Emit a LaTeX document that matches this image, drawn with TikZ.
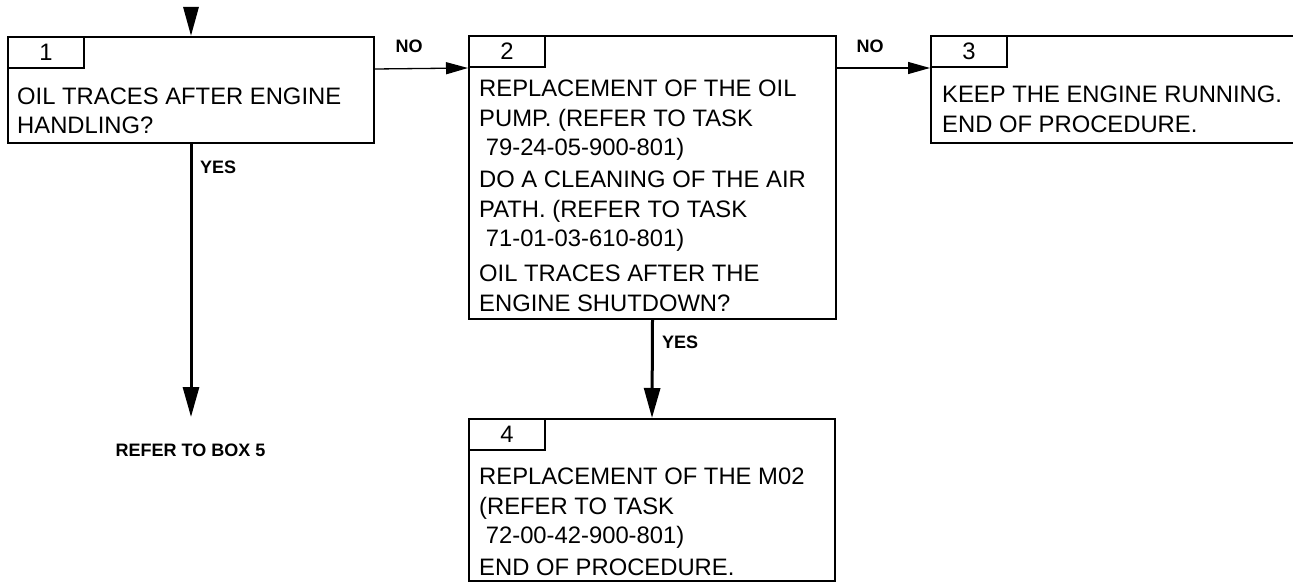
\documentclass[tikz,border=0pt]{standalone}
\usepackage{fontspec}
\setmainfont{Liberation Sans}
\usetikzlibrary{arrows.meta, positioning}

\begin{document}
\begin{tikzpicture}[
    x=1pt, y=-1pt,
    box/.style={draw, line width=2pt, anchor=north west, minimum width=366pt, inner sep=0pt},
    tab/.style={draw, line width=2pt, anchor=north west, minimum width=76pt, minimum height=31pt, inner sep=0pt, font=\fontsize{23.8}{28}\selectfont},
    boxtext/.style={anchor=base west, align=left, inner sep=0pt, font=\fontsize{23.8}{29.5}\selectfont},
    answer/.style={font=\fontsize{18}{22}\selectfont\bfseries, inner sep=0pt},
    noarrow/.style={-{Triangle[length=22pt, width=12pt]}, line width=1.3pt},
    yesarrow/.style={-{Triangle[length=30pt, width=16pt]}, line width=3pt},
  ]
    \useasboundingbox (0,0) rectangle (1293,583);

    % Boxes
    \node[box, minimum height=106pt] (b1) at (7,36) {};
    \node[box, minimum width=367pt, minimum height=283pt] (b2) at (468,35) {};
    \node[box, minimum height=107pt] (b3) at (930,35) {};
    \node[box, minimum height=162pt] (b4) at (468,418) {};

    % Number tabs
    \node[tab] (n1) at (b1.north west) {1};
    \node[tab] (n2) at (b2.north west) {2};
    \node[tab] (n3) at (b3.north west) {3};
    \node[tab] (n4) at (b4.north west) {4};

    % Texts (placed at the baseline of their last line)
    \node[boxtext] (t1) at (17,134) {OIL TRACES AFTER ENGINE\\HANDLING?};
    \node[boxtext] (t2) at (479,311) {REPLACEMENT OF THE OIL\\PUMP. (REFER TO TASK\\
      \hspace*{0.28em}79-24-05-900-801)\\[2.5pt]DO A CLEANING OF THE AIR\\PATH. (REFER TO TASK\\
      \hspace*{0.28em}71-01-03-610-801)\\[5.5pt]OIL TRACES AFTER THE\\ENGINE SHUTDOWN?};
    \node[boxtext] (t3) at (942,132) {KEEP THE ENGINE RUNNING.\\END OF PROCEDURE.};
    \node[boxtext] (t4) at (479,575) {REPLACEMENT OF THE M02\\(REFER TO TASK\\
      \hspace*{0.28em}72-00-42-900-801)\\[2pt]END OF PROCEDURE.};

    % Arrows
    \coordinate (in) at (191,8);
    \coordinate (out1) at (191,417);
    \draw[yesarrow, -{Triangle[length=29pt, width=15pt]}] (in) -- (b1.north);
    \draw[noarrow] (n1.south -| b1.east) -- (n2.south west);
    \draw[noarrow] (n2.south -| b2.east) -- (n3.south west);
    \draw[yesarrow] (b1.south) -- (out1);
    \draw[yesarrow] (b2.south) -- (b4.north);

    % Labels
    \node[answer] (no1) at (409,46) {NO};
    \node[answer] (no2) at (870,46) {NO};
    \node[answer, anchor=west] (yes1) at (200,167) {YES};
    \node[answer, anchor=west] (yes2) at (662,342) {YES};
    \node[answer] (refer) at (190.5,450) {REFER TO BOX 5};
  \end{tikzpicture}
\end{document}
